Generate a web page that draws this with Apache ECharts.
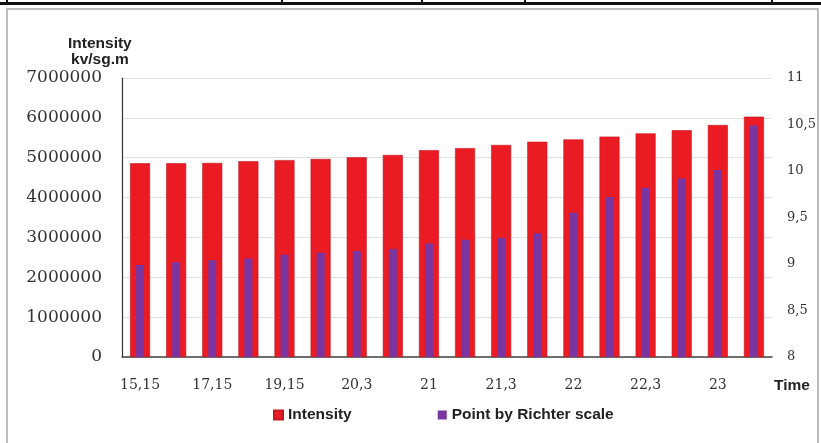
<!DOCTYPE html>
<html>
<head>
<meta charset="utf-8">
<script src="https://cdn.jsdelivr.net/npm/echarts@6/dist/echarts.min.js"></script>
<style>
  html, body { margin: 0; padding: 0; background: #fff; }
  #main { width: 821px; height: 443px; }
</style>
</head>
<body>
<div id="main"></div>
<script>
// data
var times = ['15,15', '16', '17,15', '18', '19,15', '19,3', '20,3', '20,45',
             '21', '21,15', '21,3', '21,45', '22', '22,15', '22,3', '22,45', '23', '23,15'];
var intensity = [4860000, 4860000, 4870000, 4910000, 4940000, 4970000, 5010000, 5070000,
                 5190000, 5240000, 5320000, 5400000, 5460000, 5530000, 5610000, 5690000, 5820000, 6030000];
var richter = [8.99, 9.02, 9.04, 9.06, 9.10, 9.12, 9.14, 9.16,
               9.22, 9.26, 9.28, 9.33, 9.55, 9.72, 9.82, 9.92, 10.01, 10.49];
var leftTicks = { min: 0, max: 7000000, step: 1000000 };
var rightTicks = { min: 8, max: 11, step: 0.5 };

var serif = 'DejaVu Serif';
var sans = 'Liberation Sans';

var dom = document.getElementById('main');
var myChart = echarts.init(dom);
var option = {
    animation: false,
    grid: { left: 122, right: 49, top: 78, bottom: 86 },
    legend: {
        data: ['Intensity', 'Point by Richter scale'],
        left: 268, top: 402,
        icon: 'rect', itemWidth: 9, itemHeight: 9, itemGap: 86,
        textStyle: { fontFamily: sans, fontWeight: 'bold', fontSize: 15.5, color: '#222' }
    },
    xAxis: [{
        type: 'category',
        data: times,
        name: 'Time',
        nameLocation: 'end',
        nameGap: 2,
        nameTextStyle: { fontFamily: sans, fontWeight: 'bold', fontSize: 15.5, color: '#222',
                         verticalAlign: 'top', padding: [21, 0, 0, 0] },
        axisLine: { lineStyle: { color: '#444', width: 1.5 } },
        axisTick: { show: false },
        axisLabel: { interval: 1, margin: 21, fontFamily: serif, fontSize: 14, color: '#333' }
    }, {
        type: 'category',
        data: times,
        show: false
    }],
    yAxis: [{
        type: 'value',
        min: leftTicks.min, max: leftTicks.max, interval: leftTicks.step,
        axisLine: { show: true, lineStyle: { color: '#333', width: 1.2 } },
        axisTick: { show: false },
        splitLine: { lineStyle: { color: '#e2e2e2' } },
        axisLabel: { margin: 20, fontFamily: serif, fontSize: 17, color: '#333',
                     formatter: function (v) { return String(v); } }
    }, {
        type: 'value',
        min: rightTicks.min, max: rightTicks.max, interval: rightTicks.step,
        axisLine: { show: false },
        axisTick: { show: false },
        splitLine: { show: false },
        axisLabel: {
            margin: 15, fontFamily: serif, fontSize: 13, color: '#333',
            formatter: function (v) { return String(v).replace('.', ','); }
        }
    }],
    graphic: [
        { type: 'rect', shape: { x: 7, y: 9, width: 811, height: 440 },
          style: { fill: 'none', stroke: '#a8a8a8', lineWidth: 1.5 }, z: -1 },
        { type: 'rect', shape: { x: 0, y: 2, width: 821, height: 3 }, style: { fill: '#111' } },
        { type: 'rect', shape: { x: 6, y: 0, width: 2, height: 4 }, style: { fill: '#111' } },
        { type: 'rect', shape: { x: 281, y: 0, width: 2, height: 4 }, style: { fill: '#111' } },
        { type: 'rect', shape: { x: 421, y: 0, width: 2, height: 4 }, style: { fill: '#111' } },
        { type: 'rect', shape: { x: 524, y: 0, width: 2, height: 4 }, style: { fill: '#111' } },
        { type: 'rect', shape: { x: 771, y: 0, width: 2, height: 4 }, style: { fill: '#111' } },
        { type: 'text', left: 68, top: 36,
          style: { text: 'Intensity\nkv/sg.m', textAlign: 'center', fontFamily: sans,
                   fontWeight: 'bold', fontSize: 15.5, lineHeight: 16, fill: '#222' } }
    ],
    series: [{
        name: 'Intensity',
        type: 'bar',
        xAxisIndex: 0, yAxisIndex: 0,
        barWidth: 20,
        itemStyle: { color: '#ea1b22', borderColor: '#c4161c', borderWidth: 0.6 },
        data: intensity
    }, {
        name: 'Point by Richter scale',
        type: 'bar',
        xAxisIndex: 1, yAxisIndex: 1,
        barWidth: 8,
        itemStyle: { color: '#7a35a0' },
        data: richter
    }]
};

if (option && typeof option === "object") {
    myChart.setOption(option, true);
}
</script>
</body>
</html>
